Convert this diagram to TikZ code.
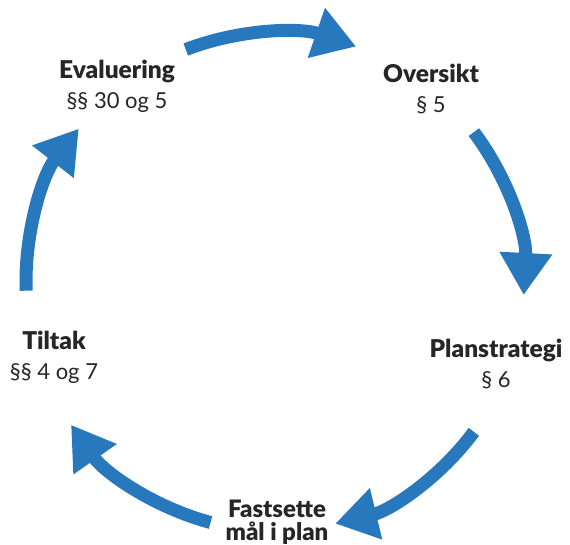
\documentclass[tikz,border=0pt]{standalone}
\usepackage{fontspec}
\setmainfont{Lato}[BoldFont={Lato Black}]
\usetikzlibrary{arrows.meta,calc}
\definecolor{cycleblue}{HTML}{2878BE}
\definecolor{labelgrey}{HTML}{262626}
\newcommand{\steptitle}[1]{{\fontsize{24.5}{30}\selectfont\bfseries #1}}

\begin{document}
\begin{tikzpicture}[x=1pt, y=1pt, every node/.style={font=\fontsize{22}{30}\selectfont, text=labelgrey, align=center}]
    \tikzset{cyclearrow/.style={draw=cycleblue, line width=13pt, -{Triangle[width=50pt,length=42pt]}}}
    \useasboundingbox (0,0) rectangle (570,545);
    \coordinate (c) at (275,263);
    % labels
    \node (eval) at (117,459) {\steptitle{Evaluering}\\§§ 30 og 5};
    \node (overs) at (431,456) {\steptitle{Oversikt}\\§ 5};
    \node (plan) at (496,181) {\steptitle{Planstrategi}\\§ 6};
    \node (tiltak) at (54,188) {\steptitle{Tiltak}\\§§ 4 og 7};
    \node[font=\fontsize{24}{22.5}\selectfont\bfseries] (maal) at (277,23) {Fastsette\\mål i plan};
    % arrow ends on the circle
    \coordinate (a1) at ($(c)+(111:249pt)$);
    \coordinate (b1) at ($(c)+(71:249pt)$);
    \coordinate (a2) at ($(c)+(37:249pt)$);
    \coordinate (b2) at ($(c)+(-3:249pt)$);
    \coordinate (a3) at ($(c)+(-37:249pt)$);
    \coordinate (b3) at ($(c)+(-76:249pt)$);
    \coordinate (a4) at ($(c)+(-105:249pt)$);
    \coordinate (b4) at ($(c)+(-145:249pt)$);
    \coordinate (a5) at ($(c)+(182:249pt)$);
    \coordinate (b5) at ($(c)+(142:249pt)$);
    \draw[cyclearrow] (a1) to[bend left=20, looseness=0.88] (b1);
    \draw[cyclearrow] (a2) to[bend left=20, looseness=0.88] (b2);
    \draw[cyclearrow] (a3) to[bend left=20, looseness=0.88] (b3);
    \draw[cyclearrow] (a4) to[bend left=20, looseness=0.88] (b4);
    \draw[cyclearrow] (a5) to[bend left=20, looseness=0.88] (b5);
\end{tikzpicture}
\end{document}
